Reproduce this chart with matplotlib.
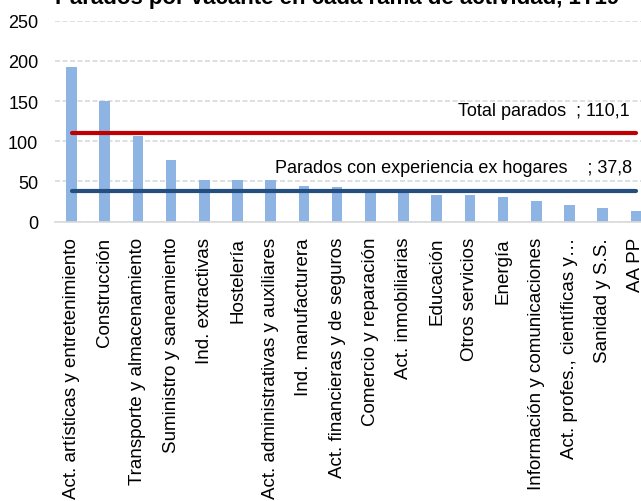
import matplotlib
matplotlib.use("Agg")
import matplotlib.pyplot as plt
import numpy as np

plt.rcParams["font.family"] = ["Liberation Sans", "DejaVu Sans"]

categorias = [
    "Act. artísticas y entretenimiento", "Construcción",
    "Transporte y almacenamiento", "Suministro y saneamiento",
    "Ind. extractivas", "Hostelería", "Act. administrativas y auxiliares",
    "Ind. manufacturera", "Act. financieras y de seguros",
    "Comercio y reparación", "Act. inmobiliarias", "Educación",
    "Otros servicios", "Energía", "Información y comunicaciones",
    "Act. profes., científicas y…", "Sanidad y S.S.", "AA PP",
]
parados_vacante = [192, 150, 106, 77, 51.5, 51.5, 51.5, 44.3, 42.7,
                   40, 38.5, 33.5, 33.5, 30.2, 26, 21, 17, 13.5]
total_parados = 110.1
parados_ex_hogares = 37.8

titulo = "Parados por vacante en cada rama de actividad, 1T19"

fig = plt.figure(figsize=(6.41, 5.02), dpi=100)
ax = fig.add_axes([0.0858, 0.5564, 0.932, 0.4004])

x = np.arange(len(categorias))
ax.bar(x, parados_vacante, width=0.32, color="#8EB4E3", zorder=2)
ax.plot([x[0], x[-1]], [total_parados] * 2, color="#C00000", lw=3, zorder=3,
        solid_capstyle="round")
ax.plot([x[0], x[-1]], [parados_ex_hogares] * 2, color="#254E80", lw=3,
        zorder=3, solid_capstyle="round")

ax.text(16.8, total_parados + 17, "Total parados  ; 110,1", fontsize=13,
        ha="right", va="bottom")
ax.text(16.9, parados_ex_hogares + 19, "Parados con experiencia ex hogares    ; 37,8",
        fontsize=13, ha="right", va="bottom")

ax.set_xlim(-0.5, len(categorias) - 0.5)
ax.set_ylim(0, 250)
ax.set_yticks([0, 50, 100, 150, 200, 250])
ax.yaxis.grid(True, color="#D9D9D9", ls=(0, (3, 1.5)), lw=1.2, zorder=0)
ax.set_axisbelow(True)
ax.set_xticks(x)
ax.set_xticklabels(categorias, rotation=90, fontsize=13.5, va="top", ha="center")
ax.tick_params(axis="x", length=0, pad=11)
ax.tick_params(axis="y", length=0, pad=12, labelsize=13)
for s in ["top", "right", "left"]:
    ax.spines[s].set_visible(False)
ax.spines["bottom"].set_color("#D9D9D9")
ax.spines["bottom"].set_linewidth(1.2)

fig.text(0.086, 1 - 4 / 502, titulo, fontsize=16, fontweight="bold",
         ha="left", va="baseline")

fig.savefig("out.png", dpi=100)
